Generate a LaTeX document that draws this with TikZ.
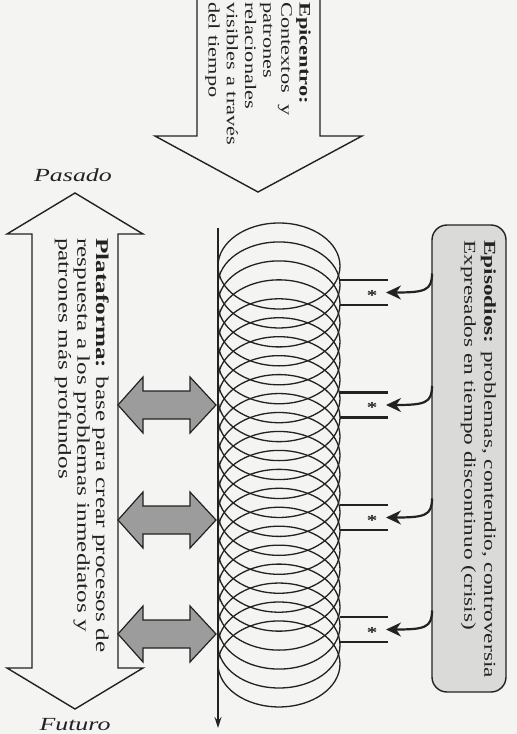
\documentclass[tikz,border=0pt]{standalone}
\usepackage{fontspec}
\setmainfont{Liberation Serif}[FakeStretch=1.4]
\usetikzlibrary{arrows.meta}
\definecolor{ink}{HTML}{222222}
\definecolor{paper}{HTML}{F4F4F2}
\definecolor{boxgray}{HTML}{DADAD8}
\definecolor{arrowgray}{HTML}{9C9C9C}
\begin{document}
\begin{tikzpicture}[x=1pt,y=-1pt,
  outline/.style={draw=ink, line width=1.4pt, line join=miter},
  rtext/.style={rotate=-90, anchor=north west, inner sep=0pt, align=left, text=ink},
  coil/.style={draw=ink, line width=1.3pt},
  grayarrow/.style={draw=ink, line width=1.2pt, fill=arrowgray},
  tickline/.style={draw=ink, line width=2.8pt},
  episodearrow/.style={draw=ink, line width=2.2pt, -{Stealth[length=15pt,width=14pt]}},
  timelabel/.style={text=ink, font=\itshape\fontsize{18.5}{20}\selectfont, inner sep=0pt},
]
\fill[paper] (0,0) rectangle (517,734);
\useasboundingbox (0,0) rectangle (517,734);

% Epicentro arrow
\draw[outline] (197,-3) -- (197,136) -- (155,136) -- (258,192) -- (362,136) -- (320,136) -- (320,-3);
\node[rtext, font=\fontsize{16}{18.2}\selectfont] (epi) at (311,2) {\textbf{Epicentro:}\\Contextos\ \ y\\patrones\\relacionales\\visibles a través\\del tiempo};

% Plataforma double arrow
\node[timelabel] (pasado) at (73,175) {Pasado};
\node[timelabel] (futuro) at (75,725) {Futuro};
\draw[outline] (75,193) -- (143,234) -- (118,234) -- (118,668) -- (143,668) -- (75,709) -- (7,668) -- (32,668) -- (32,234) -- (7,234) -- cycle;
\node[rtext, font=\fontsize{18}{18.8}\selectfont] (plat) at (109,238) {\textbf{Plataforma:} base para crear procesos de\\respuesta a los problemas inmediatos y\\patrones más profundos};

% gray double arrows
\foreach \c in {405,520,634}{
  \draw[grayarrow] (118,\c) -- (143,\c-28) -- (143,\c-14) -- (190,\c-14) -- (190,\c-28) -- (216,\c) -- (190,\c+28) -- (190,\c+14) -- (143,\c+14) -- (143,\c+28) -- cycle;
}

% spiral
\foreach \i in {0,...,21}{
  \draw[coil] (279,266+\i*18.95) ellipse [x radius=61pt, y radius=43pt];
}
\coordinate (axtop) at (218,228);
\coordinate (axbot) at (218,728);
\draw[coil, -{Stealth[length=11pt,width=7pt]}] (axtop) -- (axbot);

% Episodios box
\node[draw=ink, line width=1.4pt, fill=boxgray, rounded corners=15pt, minimum width=74pt, minimum height=467pt, inner sep=0pt] (epbox) at (469,458.5) {};
\node[rtext, font=\fontsize{16.6}{20}\selectfont] (eptext) at (496,240) {\textbf{Episodios:} problemas, contendio, controversia\\Expresados en tiempo discontinuo (crisis)};

% episode markers
\foreach \m [count=\k] in {292.5,405,517.5,629.5}{
  \draw[tickline] (340,\m-12.5) -- (388,\m-12.5);
  \draw[tickline] (340,\m+12.5) -- (388,\m+12.5);
  \node[text=ink, font=\bfseries\fontsize{15}{15}\selectfont, inner sep=0pt] (ast\k) at (372,\m+3) {*};
  \coordinate (from\k) at (432,\m-19);
  \coordinate (to\k) at (386,\m);
  \draw[episodearrow] (from\k) .. controls (432,\m-2) and (425,\m) .. (to\k);
}
\end{tikzpicture}
\end{document}
